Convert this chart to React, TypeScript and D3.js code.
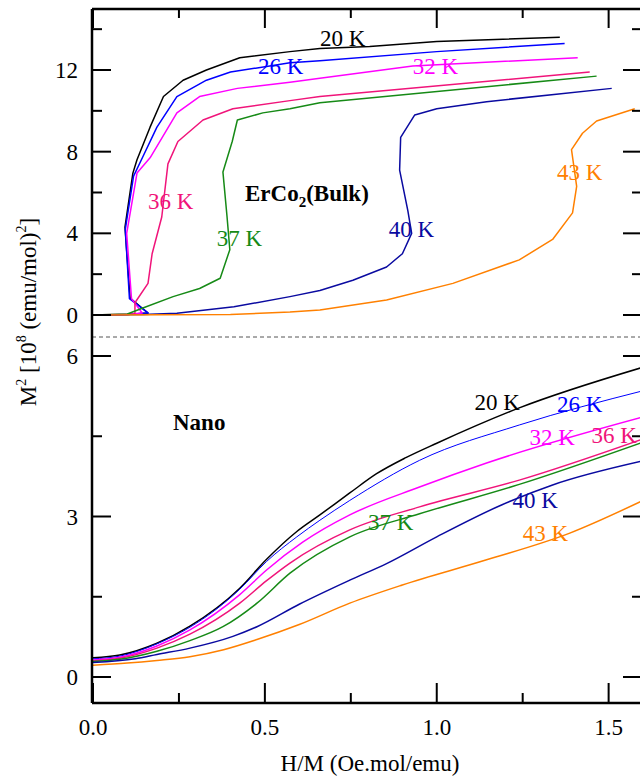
import React from "react";
import * as d3 from "d3";

// ---- data ----
type Pt = [number, number];

const bulk20K: Pt[] = [[0,0],[0.1,0.02],[0.16,0.1],[0.108,0.83],[0.093,4.3],[0.116,6.95],[0.128,7.6],[0.166,9.2],[0.205,10.7],[0.262,11.5],[0.33,12.0],[0.427,12.6],[0.573,12.9],[0.66,13.05],[0.805,13.15],[1.0,13.4],[1.358,13.6]];
const bulk26K: Pt[] = [[0,0],[0.1,0.02],[0.16,0.1],[0.106,0.8],[0.094,4.2],[0.118,6.8],[0.145,7.75],[0.186,9.2],[0.244,10.7],[0.33,11.5],[0.4,11.9],[0.573,12.35],[0.66,12.45],[1.0,12.9],[1.372,13.3]];
const bulk32K: Pt[] = [[0,0],[0.1,0.03],[0.143,0.1],[0.112,0.8],[0.098,4.0],[0.128,6.95],[0.166,7.7],[0.244,9.9],[0.31,10.7],[0.42,11.1],[0.573,11.4],[0.66,11.6],[0.93,12.2],[1.41,12.6]];
const bulk36K: Pt[] = [[0,0],[0.12,0.05],[0.122,0.1],[0.122,0.6],[0.16,1.55],[0.172,3.0],[0.2,4.8],[0.218,7.4],[0.247,8.5],[0.32,9.55],[0.407,10.1],[0.573,10.5],[0.66,10.7],[1.445,11.9]];
const bulk37K: Pt[] = [[0,0],[0.1,0.05],[0.145,0.34],[0.233,0.9],[0.31,1.3],[0.37,1.8],[0.398,3.2],[0.39,4.8],[0.378,7.0],[0.405,8.5],[0.42,9.55],[0.494,9.9],[0.573,10.1],[0.66,10.4],[1.465,11.7]];
const bulk40K: Pt[] = [[0,0],[0.148,0.02],[0.244,0.08],[0.41,0.4],[0.573,0.9],[0.66,1.2],[0.756,1.7],[0.854,2.35],[0.9,3.0],[0.927,4.0],[0.916,5.1],[0.892,7.1],[0.895,8.7],[0.936,9.8],[1.0,10.1],[1.145,10.45],[1.509,11.1]];
const bulk43K: Pt[] = [[0,0],[0.4,0.02],[0.573,0.15],[0.66,0.25],[0.854,0.73],[1.047,1.55],[1.24,2.7],[1.337,3.7],[1.395,5.0],[1.407,6.3],[1.392,8.1],[1.424,8.9],[1.465,9.5],[1.576,10.1]];

const nano20K: Pt[] = [[0,0.36],[0.078,0.41],[0.186,0.63],[0.282,0.95],[0.427,1.66],[0.505,2.2],[0.593,2.72],[0.66,3.03],[0.747,3.44],[0.825,3.8],[0.91,4.1],[1.0,4.37],[1.24,5.03],[1.6,5.79]];
const nano26K: Pt[] = [[0,0.34],[0.078,0.39],[0.186,0.62],[0.282,0.93],[0.427,1.64],[0.505,2.16],[0.593,2.62],[0.66,2.93],[0.747,3.3],[0.95,4.05],[1.24,4.71],[1.6,5.35]];
const nano32K: Pt[] = [[0,0.32],[0.078,0.37],[0.186,0.58],[0.282,0.88],[0.427,1.54],[0.505,2.0],[0.61,2.52],[0.747,3.03],[0.95,3.55],[1.145,4.0],[1.6,4.86]];
const nano36K: Pt[] = [[0,0.3],[0.078,0.35],[0.186,0.54],[0.282,0.8],[0.427,1.38],[0.505,1.8],[0.573,2.13],[0.747,2.75],[0.95,3.18],[1.24,3.68],[1.6,4.45]];
const nano37K: Pt[] = [[0,0.29],[0.078,0.33],[0.186,0.48],[0.282,0.68],[0.378,0.94],[0.477,1.38],[0.573,1.94],[0.747,2.62],[0.95,3.05],[1.24,3.6],[1.6,4.39]];
const nano40K: Pt[] = [[0,0.27],[0.123,0.34],[0.186,0.42],[0.282,0.54],[0.407,0.76],[0.477,0.94],[0.6,1.36],[0.747,1.81],[0.854,2.12],[1.0,2.62],[1.19,3.22],[1.337,3.59],[1.6,4.04]];
const nano43K: Pt[] = [[0,0.22],[0.1,0.26],[0.186,0.31],[0.282,0.38],[0.38,0.51],[0.477,0.7],[0.6,0.98],[0.747,1.38],[0.9,1.72],[1.145,2.19],[1.387,2.69],[1.6,3.3]];

const colors = ["#000000", "#0000ff", "#ff00ff", "#f0147a", "#168a16", "#0a0aa0", "#ff8000"];
const bulkSeries = [bulk20K, bulk26K, bulk32K, bulk36K, bulk37K, bulk40K, bulk43K];
const nanoSeries = [nano20K, nano26K, nano32K, nano36K, nano37K, nano40K, nano43K];

// label name, anchor point in data units
const bulkLabels: [string, number, number][] = [
  ["20 K", 0.66, 13.2], ["26 K", 0.48, 11.8], ["32 K", 0.93, 11.8],
  ["36 K", 0.16, 5.2], ["37 K", 0.36, 3.4], ["40 K", 0.86, 3.8], ["43 K", 1.35, 6.6],
];
const nanoLabels: [string, number, number][] = [
  ["20 K", 1.11, 5.0], ["26 K", 1.35, 4.95], ["32 K", 1.27, 4.33],
  ["36 K", 1.45, 4.38], ["37 K", 0.8, 2.75], ["40 K", 1.22, 3.15], ["43 K", 1.25, 2.55],
];

const xMajor = [0, 0.5, 1.0, 1.5];
const xMinor = [0.25, 0.75, 1.25];
const topMajor = [0, 4, 8, 12];
const topMinor = [2, 6, 10, 14];
const botMajor = [0, 3, 6];
const botMinor = [1.5, 4.5];

const W = 640, H = 780;
const LEFT = 92, RIGHT = 642, TOP = 9, MID = 337, BOTTOM = 703;
const FONT = "'Liberation Serif', 'Times New Roman', serif";

const x = d3.scaleLinear().domain([0, 1.6]).range([93, 643]);
const yTop = d3.scaleLinear().domain([0, 12]).range([315, 70]);
const yBot = d3.scaleLinear().domain([0, 6]).range([677, 356]);

const App = () => {
  // bulk curves fold back in x, so keep them as plain polylines
  const lineTop = d3.line<Pt>().x(d => x(d[0])).y(d => yTop(d[1]));
  const lineBot = d3.line<Pt>().x(d => x(d[0])).y(d => yBot(d[1])).curve(d3.curveMonotoneX);

  const yTicks = (scale: d3.ScaleLinear<number, number>, major: number[], minor: number[]) => (
    <g stroke="#000" strokeWidth={2}>
      {major.map(v => <line key={"a" + v} x1={LEFT} x2={LEFT + 19} y1={scale(v)} y2={scale(v)} />)}
      {minor.map(v => <line key={"b" + v} x1={LEFT} x2={LEFT + 10} y1={scale(v)} y2={scale(v)} />)}
      {major.map(v => <line key={"c" + v} x1={RIGHT} x2={RIGHT - 19} y1={scale(v)} y2={scale(v)} />)}
      {minor.map(v => <line key={"d" + v} x1={RIGHT} x2={RIGHT - 10} y1={scale(v)} y2={scale(v)} />)}
    </g>
  );

  return (
    <svg width={W} height={H} style={{ position: "absolute", left: 0, top: 0, background: "#fff" }} fontFamily={FONT}>
      <defs>
        <clipPath id="clipTop"><rect x={LEFT} y={TOP} width={RIGHT - LEFT} height={MID - TOP} /></clipPath>
        <clipPath id="clipBot"><rect x={LEFT} y={MID} width={RIGHT - LEFT} height={BOTTOM - MID} /></clipPath>
      </defs>

      {/* curves */}
      <g clipPath="url(#clipTop)" fill="none" strokeWidth={1.5} strokeLinejoin="round">
        {bulkSeries.map((s, i) => <path key={i} d={lineTop(s) || ""} stroke={colors[i]} />)}
      </g>
      <g clipPath="url(#clipBot)" fill="none" strokeWidth={1.5} strokeLinejoin="round">
        {nanoSeries.map((s, i) => <path key={i} d={lineBot(s) || ""} stroke={colors[i]} strokeWidth={i === 1 ? 1 : 1.5} />)}
      </g>

      {/* divider */}
      <line x1={LEFT} x2={RIGHT} y1={MID} y2={MID} stroke="#555" strokeWidth={1} strokeDasharray="4,3" />

      {/* frame */}
      <g stroke="#000" strokeWidth={2.5} fill="none">
        <line x1={LEFT} x2={LEFT} y1={TOP} y2={BOTTOM} />
        <line x1={LEFT} x2={RIGHT} y1={TOP} y2={TOP} />
        <line x1={LEFT} x2={RIGHT} y1={BOTTOM} y2={BOTTOM} />
        <line x1={RIGHT} x2={RIGHT} y1={TOP} y2={BOTTOM} />
      </g>

      {/* x ticks, bottom and top */}
      <g stroke="#000" strokeWidth={2}>
        {xMajor.map(v => <line key={"b" + v} x1={x(v)} x2={x(v)} y1={BOTTOM} y2={BOTTOM - 20} />)}
        {xMinor.map(v => <line key={"m" + v} x1={x(v)} x2={x(v)} y1={BOTTOM} y2={BOTTOM - 10} />)}
        {xMajor.map(v => <line key={"t" + v} x1={x(v)} x2={x(v)} y1={TOP} y2={TOP + 19} />)}
        {xMinor.map(v => <line key={"n" + v} x1={x(v)} x2={x(v)} y1={TOP} y2={TOP + 9} />)}
      </g>
      {yTicks(yTop, topMajor, topMinor)}
      {yTicks(yBot, botMajor, botMinor)}

      {/* tick labels */}
      <g fontSize={23} fill="#000">
        {xMajor.map(v => <text key={v} x={x(v)} y={735} textAnchor="middle">{v.toFixed(1)}</text>)}
        {topMajor.map(v => <text key={"t" + v} x={78} y={yTop(v) + 8} textAnchor="end">{v}</text>)}
        {botMajor.map(v => <text key={"b" + v} x={78} y={yBot(v) + 8} textAnchor="end">{v}</text>)}
      </g>

      {/* axis titles */}
      <text x={370} y={771} fontSize={23} textAnchor="middle">H/M (Oe.mol/emu)</text>
      <text transform="translate(36,312) rotate(-90)" fontSize={23} textAnchor="middle">
        M<tspan dy={-10} fontSize={14}>2</tspan><tspan dy={10}> [10</tspan><tspan dy={-10} fontSize={14}>8</tspan>
        <tspan dy={10}> (emu/mol)</tspan><tspan dy={-10} fontSize={14}>2</tspan><tspan dy={10}>]</tspan>
      </text>

      {/* panel titles */}
      <text x={245} y={201} fontSize={23} fontWeight="bold">
        ErCo<tspan dy={6} fontSize={15}>2</tspan><tspan dy={-6}>(Bulk)</tspan>
      </text>
      <text x={173} y={430} fontSize={23} fontWeight="bold">Nano</text>

      {/* curve labels */}
      <g fontSize={23}>
        {bulkLabels.map(([t, vx, vy], i) => <text key={"bl" + i} x={x(vx)} y={yTop(vy)} fill={colors[i]}>{t}</text>)}
        {nanoLabels.map(([t, vx, vy], i) => <text key={"nl" + i} x={x(vx)} y={yBot(vy)} fill={colors[i]}>{t}</text>)}
      </g>
    </svg>
  );
};

export default App;
